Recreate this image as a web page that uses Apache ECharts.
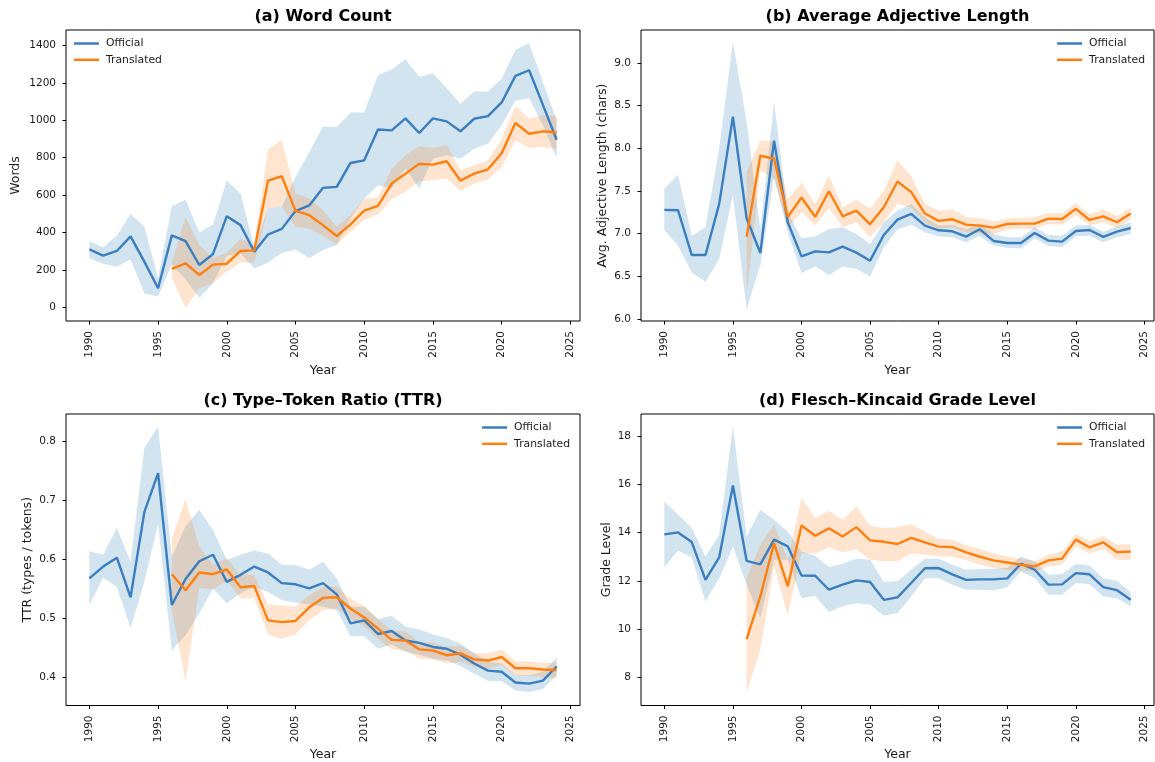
<!DOCTYPE html>
<html><head><meta charset="utf-8">
<script src="https://cdn.jsdelivr.net/npm/echarts@6/dist/echarts.min.js"></script>
<style>html,body{margin:0;padding:0;background:#fff}#c{width:1155px;height:762px}</style>
</head><body><div id="c"></div><script>
// ---------- data ----------
const years = [1990,1991,1992,1993,1994,1995,1996,1997,1998,1999,2000,2001,2002,2003,2004,2005,2006,2007,2008,2009,2010,2011,2012,2013,2014,2015,2016,2017,2018,2019,2020,2021,2022,2023,2024];
const transYears = [1996,1997,1998,1999,2000,2001,2002,2003,2004,2005,2006,2007,2008,2009,2010,2011,2012,2013,2014,2015,2016,2017,2018,2019,2020,2021,2022,2023,2024];

const xTicks = [1990,1995,2000,2005,2010,2015,2020,2025];
const wcTicks = [0,200,400,600,800,1000,1200,1400];
const adjTicks = [6.0,6.5,7.0,7.5,8.0,8.5,9.0];
const ttrTicks = [0.4,0.5,0.6,0.7,0.8];
const fkTicks = [8,10,12,14,16,18];

const seriesNames = ['Official','Translated'];
const titles = ['(a) Word Count','(b) Average Adjective Length','(c) Type\u2013Token Ratio (TTR)','(d) Flesch\u2013Kincaid Grade Level'];
const yNames = ['Words','Avg. Adjective Length (chars)','TTR (types / tokens)','Grade Level'];
const xName = 'Year';

// (a) Word count
const wcOff   = [310,277,302,380,245,103,385,355,227,286,488,440,298,390,420,515,545,639,644,772,786,951,946,1010,932,1010,994,941,1008,1022,1095,1237,1267,1082,896];
const wcOffHi = [355,321,383,499,433,156,541,575,401,445,678,607,320,532,538,697,829,967,962,1042,1042,1242,1271,1326,1233,1251,1171,1088,1154,1154,1221,1375,1413,1203,1000];
const wcOffLo = [263,234,218,257,75,59,230,150,52,130,275,290,209,241,291,310,263,307,334,476,582,653,635,742,635,795,813,795,848,875,973,1106,1118,973,800];
const wcTr    = [206,236,174,229,234,302,305,678,701,516,493,440,382,444,518,543,662,715,767,763,781,678,715,738,824,985,928,941,935];
const wcTrHi  = [240,484,334,263,293,369,334,845,893,609,582,520,431,493,582,586,742,813,863,852,866,733,760,786,898,1076,1008,1026,1026];
const wcTrLo  = [160,-4,103,130,192,240,240,532,538,431,422,382,337,405,467,497,579,618,674,680,689,623,662,683,751,893,852,857,845];

// (b) Average adjective length
const adjOff   = [7.277,7.273,6.748,6.748,7.347,8.370,7.179,6.772,8.088,7.132,6.732,6.791,6.779,6.846,6.776,6.682,6.983,7.163,7.230,7.093,7.038,7.026,6.964,7.050,6.913,6.889,6.889,7.007,6.917,6.905,7.030,7.042,6.960,7.022,7.065];
const adjOffHi = [7.524,7.688,6.975,7.073,7.994,9.247,8.307,7.050,8.542,7.250,6.944,6.967,7.054,7.073,6.995,6.877,7.132,7.269,7.347,7.191,7.093,7.100,7.046,7.112,6.995,6.956,6.956,7.073,6.983,6.975,7.093,7.100,7.022,7.085,7.132];
const adjOffLo = [7.042,6.858,6.544,6.435,6.701,7.453,6.114,6.630,7.661,7.014,6.537,6.615,6.513,6.615,6.584,6.497,6.838,7.046,7.104,7.014,6.964,6.956,6.897,6.975,6.858,6.834,6.826,6.944,6.858,6.838,6.967,6.975,6.897,6.956,6.995];
const adjTr    = [6.964,7.911,7.876,7.195,7.422,7.195,7.496,7.202,7.269,7.108,7.308,7.610,7.485,7.234,7.148,7.167,7.104,7.093,7.069,7.112,7.116,7.116,7.175,7.171,7.289,7.159,7.202,7.132,7.234];
const adjTrHi  = [7.720,8.092,8.072,7.406,7.594,7.347,7.680,7.308,7.398,7.289,7.504,7.857,7.673,7.347,7.269,7.281,7.191,7.183,7.140,7.179,7.183,7.191,7.242,7.238,7.355,7.230,7.281,7.202,7.308];
const adjTrLo  = [6.270,7.739,7.641,7.073,7.250,7.093,7.297,7.073,7.132,6.956,7.132,7.347,7.308,7.132,7.054,7.073,7.014,7.007,6.995,7.046,7.054,7.054,7.112,7.104,7.218,7.093,7.132,7.065,7.163];

// (c) Type-token ratio
const ttrOff   = [0.568,0.588,0.603,0.536,0.680,0.746,0.523,0.567,0.597,0.608,0.562,0.574,0.588,0.578,0.560,0.558,0.551,0.560,0.541,0.492,0.497,0.474,0.479,0.463,0.459,0.452,0.449,0.439,0.424,0.412,0.410,0.392,0.390,0.395,0.419];
const ttrOffHi = [0.614,0.608,0.653,0.596,0.789,0.825,0.605,0.656,0.684,0.650,0.599,0.608,0.615,0.610,0.591,0.590,0.583,0.596,0.568,0.520,0.520,0.499,0.505,0.486,0.482,0.473,0.467,0.458,0.441,0.427,0.424,0.405,0.404,0.410,0.434];
const ttrOffLo = [0.523,0.569,0.554,0.484,0.562,0.661,0.446,0.472,0.509,0.551,0.526,0.543,0.554,0.545,0.531,0.527,0.524,0.520,0.514,0.470,0.470,0.449,0.456,0.444,0.439,0.432,0.429,0.420,0.407,0.395,0.394,0.379,0.376,0.381,0.404];
const ttrTr    = [0.575,0.548,0.578,0.575,0.583,0.553,0.555,0.497,0.494,0.496,0.519,0.535,0.536,0.517,0.502,0.483,0.464,0.463,0.448,0.446,0.438,0.441,0.431,0.429,0.435,0.416,0.416,0.414,0.413];
const ttrTrHi  = [0.636,0.702,0.622,0.591,0.602,0.574,0.574,0.524,0.522,0.520,0.540,0.554,0.554,0.534,0.521,0.500,0.480,0.478,0.461,0.459,0.452,0.454,0.442,0.441,0.448,0.428,0.428,0.425,0.425];
const ttrTrLo  = [0.514,0.393,0.552,0.549,0.565,0.534,0.535,0.473,0.466,0.473,0.497,0.514,0.517,0.500,0.486,0.466,0.448,0.446,0.432,0.431,0.424,0.427,0.418,0.415,0.422,0.404,0.403,0.401,0.399];

// (d) Flesch-Kincaid grade level
const fkOff   = [13.93,14.01,13.61,12.04,12.97,15.96,12.83,12.68,13.71,13.43,12.22,12.21,11.63,11.84,12.02,11.95,11.21,11.31,11.91,12.52,12.53,12.27,12.04,12.06,12.06,12.10,12.71,12.46,11.84,11.85,12.32,12.27,11.74,11.61,11.21];
const fkOffHi = [15.30,14.75,14.19,13.01,13.89,18.42,13.84,14.95,14.54,14.05,13.22,13.04,12.57,12.71,12.92,12.88,11.95,11.98,12.46,12.92,12.92,12.67,12.46,12.49,12.50,12.53,13.01,12.81,12.25,12.28,12.70,12.64,12.11,12.00,11.53];
const fkOffLo = [12.56,13.26,12.97,11.14,12.11,13.43,11.84,10.45,12.88,12.88,11.28,11.38,10.70,10.94,11.07,11.01,10.55,10.66,11.35,12.11,12.11,11.84,11.63,11.63,11.60,11.73,12.39,12.11,11.42,11.42,11.91,11.86,11.35,11.28,10.94];
const fkTr    = [9.58,11.35,13.57,11.77,14.30,13.87,14.18,13.84,14.23,13.68,13.62,13.53,13.78,13.60,13.42,13.40,13.18,13.00,12.85,12.76,12.67,12.60,12.85,12.92,13.71,13.39,13.60,13.19,13.22];
const fkTrHi  = [12.11,13.50,14.33,12.88,15.44,14.61,14.91,14.54,15.09,14.30,14.19,14.22,14.36,14.05,13.75,13.71,13.47,13.33,13.15,13.01,12.92,12.81,13.08,13.22,13.94,13.64,13.87,13.50,13.53];
const fkTrLo  = [7.38,9.14,12.60,10.56,13.15,13.12,13.39,13.19,13.30,12.88,12.81,12.81,13.15,13.08,13.01,13.01,12.85,12.67,12.53,12.46,12.43,12.39,12.60,12.67,13.43,13.12,13.33,12.88,12.88];

// ---------- chart ----------
const FONT = 'DejaVu Sans';
const BLUE = '#1f77b4', ORANGE = '#ff7f0e';
const BLUE_LINE = '#3a7ebf', ORANGE_LINE = '#ff7f0e';
const TXT = '#1a1a1a';

const panels = [
  {off:[wcOff,wcOffLo,wcOffHi], tr:[wcTr,wcTrLo,wcTrHi], ticks:wcTicks, min:-72, max:1482, fmt:v=>String(Math.round(v)), yGap:44, xGap:43},
  {off:[adjOff,adjOffLo,adjOffHi], tr:[adjTr,adjTrLo,adjTrHi], ticks:adjTicks, min:5.975, max:9.385, fmt:v=>v.toFixed(1), yGap:32, xGap:43},
  {off:[ttrOff,ttrOffLo,ttrOffHi], tr:[ttrTr,ttrTrLo,ttrTrHi], ticks:ttrTicks, min:0.353, max:0.846, fmt:v=>v.toFixed(1), yGap:32, xGap:43},
  {off:[fkOff,fkOffLo,fkOffHi], tr:[fkTr,fkTrLo,fkTrHi], ticks:fkTicks, min:6.82, max:18.93, fmt:v=>String(Math.round(v)), yGap:28, xGap:43}
];
const grids = [
  {left:66, top:30, width:514, height:291},
  {left:641, top:30, width:513, height:291},
  {left:66, top:414, width:514, height:291.5},
  {left:641, top:414, width:513, height:291.5}
];

function band(gi, xs, lo, hi, color, name) {
  const data = xs.map((x,i)=>[x, lo[i], hi[i]]);
  return {
    type:'custom', name, xAxisIndex:gi, yAxisIndex:gi, silent:true, z:2,
    data, encode:{x:0, y:[1,2]},
    renderItem(params, api) {
      if (params.dataIndex !== 0) return null;
      const top = data.map(d => api.coord([d[0], d[2]]));
      const bot = data.map(d => api.coord([d[0], d[1]])).reverse();
      return {type:'polygon', shape:{points: top.concat(bot)}, style:{fill: color, opacity: 0.2}};
    }
  };
}
function line(gi, xs, ys, color, name) {
  return {
    type:'line', name, xAxisIndex:gi, yAxisIndex:gi, z:2,
    data: xs.map((x,i)=>[x, ys[i]]),
    symbol:'none', showSymbol:false, silent:true,
    lineStyle:{color, width:2.4}, itemStyle:{color},
    emphasis:{disabled:true}
  };
}

const series = [];
panels.forEach((p, gi) => {
  series.push(band(gi, years, p.off[1], p.off[2], BLUE, 'band-off-' + gi));
  series.push(line(gi, years, p.off[0], BLUE_LINE, seriesNames[0]));
  series.push(band(gi, transYears, p.tr[1], p.tr[2], ORANGE, 'band-tr-' + gi));
  series.push(line(gi, transYears, p.tr[0], ORANGE_LINE, seriesNames[1]));
});

const xAxes = grids.map((g, gi) => ({
  gridIndex: gi, type:'value', min:1988.3, max:2025.7,
  splitLine:{show:false},
  axisLine:{show:false, onZero:false},
  axisTick:{show:true, length:3.5, inside:false, lineStyle:{color:'#000', width:1}, customValues:xTicks},
  axisLabel:{customValues:xTicks, rotate:90, fontSize:10.5, margin:10, color:TXT, fontFamily:FONT, formatter:v=>String(v)},
  name:xName, nameLocation:'middle', nameGap:panels[gi].xGap,
  nameTextStyle:{fontSize:12.5, color:TXT, fontFamily:FONT}
}));
const yAxes = grids.map((g, gi) => ({
  gridIndex: gi, type:'value', min:panels[gi].min, max:panels[gi].max,
  splitLine:{show:false},
  axisLine:{show:false, onZero:false},
  axisTick:{show:true, length:3.5, inside:false, lineStyle:{color:'#000', width:1}, customValues:panels[gi].ticks},
  axisLabel:{customValues:panels[gi].ticks, fontSize:10.5, margin:10, color:TXT, fontFamily:FONT, formatter:panels[gi].fmt},
  name:yNames[gi], nameLocation:'middle', nameGap:panels[gi].yGap, nameRotate:90,
  nameTextStyle:{fontSize:12.5, color:TXT, fontFamily:FONT}
}));

const titleOpts = grids.map((g, gi) => ({
  text: titles[gi], left: g.left + g.width/2, textAlign:'center', top: g.top - 21.5, padding:0,
  textStyle:{fontSize:16, fontWeight:'bold', color:'#000', fontFamily:FONT}
}));

const legendBase = {
  orient:'vertical', padding:0, itemWidth:25, itemHeight:2.5, itemGap:4.3, icon:'rect',
  selectedMode:false, data:seriesNames,
  textStyle:{fontSize:10.8, lineHeight:12, color:TXT, fontFamily:FONT, padding:[0,0,0,2]}
};
const legends = [
  Object.assign({}, legendBase, {left:74, top:37.5}),
  Object.assign({}, legendBase, {right:10, top:37.5}),
  Object.assign({}, legendBase, {right:585, top:421.5}),
  Object.assign({}, legendBase, {right:10, top:421.5})
];

const chart = echarts.init(document.getElementById('c'), null, {renderer:'canvas'});
chart.setOption({
  animation:false,
  backgroundColor:'#fff',
  title: titleOpts,
  legend: legends,
  grid: grids.map(g => Object.assign({show:true, borderColor:'#000', borderWidth:1, backgroundColor:'transparent', containLabel:false, outerBoundsMode:'none'}, g)),
  xAxis: xAxes,
  yAxis: yAxes,
  series
});
</script></body></html>
